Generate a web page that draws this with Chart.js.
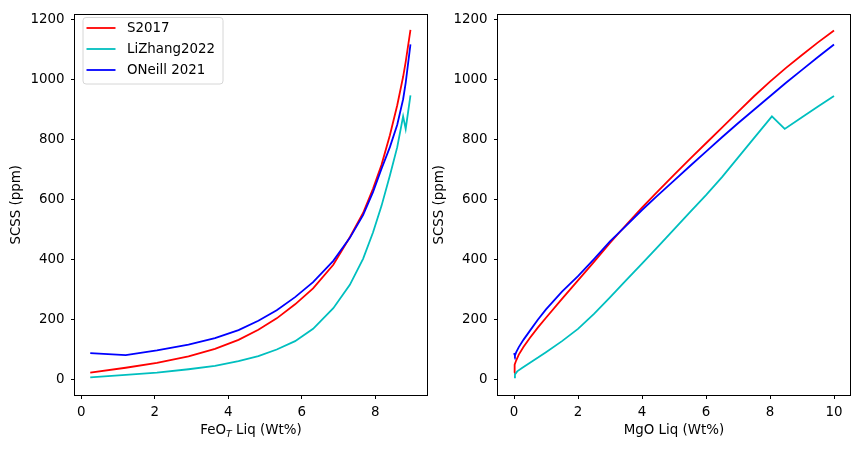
<!DOCTYPE html>
<html>
<head>
<meta charset="utf-8">
<script src="https://cdn.jsdelivr.net/npm/chart.js@4.4.1/dist/chart.umd.min.js"></script>
<style>
  html, body { margin: 0; padding: 0; background: #fff; }
  #wrap { position: relative; width: 859px; height: 452px; }
  #wrap canvas { position: absolute; top: 0; }
</style>
</head>
<body>
<div id="wrap">
  <canvas id="feoChart" width="430" height="452" style="left:0"></canvas>
  <canvas id="mgoChart" width="429" height="452" style="left:430px"></canvas>
</div>
<script>
// Left panel: SCSS against FeO_T
const feoLiq = [0.245, 1.21, 2.06, 2.92, 3.64, 4.28, 4.82, 5.32, 5.82, 6.31, 6.86, 7.31, 7.67, 7.94, 8.17, 8.4, 8.6, 8.76, 8.83, 8.96];
const s2017Feo = [22, 38, 54, 76, 101, 131, 165, 203, 250, 303, 382, 474, 555, 636, 715, 815, 915, 1010, 1060, 1167];
const liZhangFeo = [6, 14, 22, 33, 44, 60, 77, 99, 127, 168, 237, 315, 402, 490, 578, 680, 775, 878, 836, 948];
const oneillFeo = [87, 80, 96, 115, 137, 164, 195, 230, 274, 324, 395, 472, 548, 625, 702, 775, 850, 935, 990, 1118];

// Right panel: SCSS against MgO
const mgoRed = [0, 0.01, 0.03, 0.07, 0.15, 0.3, 0.5, 0.75, 1, 1.5, 2, 2.5, 3, 3.5, 4, 4.5, 5, 5.5, 6, 6.5, 7, 7.5, 8, 8.5, 9, 9.5, 10];
const s2017Mgo = [21, 36, 48, 63, 82, 108, 138, 173, 205, 268, 330, 392, 455, 515, 573, 628, 682, 736, 788, 840, 893, 945, 994, 1040, 1083, 1125, 1165];
const mgoBlue = [0, 0.03, 0.07, 0.15, 0.3, 0.5, 0.75, 1, 1.5, 2, 2.5, 3, 3.5, 4, 4.5, 5, 5.5, 6, 6.5, 7, 7.5, 8, 8.5, 9, 9.5, 10];
const oneillMgo = [87, 79, 90, 107, 132, 162, 199, 233, 292, 344, 401, 460, 512, 565, 615, 663, 712, 760, 808, 855, 900, 945, 990, 1033, 1076, 1118];
const mgoCyan = [0, 0.03, 0.1, 0.25, 0.5, 0.75, 1, 1.5, 2, 2.5, 3, 3.5, 4, 4.5, 5, 5.5, 6, 6.5, 7, 7.5, 8.06, 8.46, 9, 9.5, 10];
const liZhangMgo = [6, 16, 26, 37, 55, 72, 90, 127, 168, 218, 273, 330, 386, 443, 500, 558, 615, 675, 740, 805, 878, 836, 875, 911, 946];

const seriesNames = ['S2017', 'LiZhang2022', 'ONeill 2021'];
const seriesColors = ['#ff0000', '#00bfbf', '#0000ff'];
const yTicks = [0, 200, 400, 600, 800, 1000, 1200];
const feoTicks = [0, 2, 4, 6, 8];
const mgoTicks = [0, 2, 4, 6, 8, 10];

const FONT = { family: 'DejaVu Sans', size: 13.4 };
const pts = (xs, ys) => xs.map((x, i) => ({ x: x, y: ys[i] }));

function makeDatasets(list) {
  return list.map((d, i) => ({
    label: seriesNames[i],
    data: d,
    borderColor: seriesColors[i],
    backgroundColor: seriesColors[i],
    borderWidth: 1.8,
    pointRadius: 0,
    tension: 0,
    fill: false,
    order: 3 - i
  }));
}

function makeScales(xMin, xMax, xTicks, yWidth, xTitle, yTitlePad) {
  const grid = { drawOnChartArea: false, drawTicks: true, tickLength: 4, color: '#000', lineWidth: 1 };
  return {
    x: {
      type: 'linear', min: xMin, max: xMax,
      afterBuildTicks: s => { s.ticks = xTicks.map(v => ({ value: v })); },
      afterFit: s => { s.height = 57; },
      grid: grid,
      border: { display: false },
      ticks: { color: '#000', font: FONT, padding: 5, maxRotation: 0, autoSkip: false, callback: v => String(v) },
      title: { display: !!xTitle, text: xTitle || '', color: '#000', font: FONT, padding: { top: 0, bottom: 13 } }
    },
    y: {
      type: 'linear', min: -53, max: 1218,
      afterBuildTicks: s => { s.ticks = yTicks.map(v => ({ value: v })); },
      afterFit: s => { s.width = yWidth; },
      grid: grid,
      border: { display: false },
      ticks: { color: '#000', font: FONT, padding: 6.5, autoSkip: false, callback: v => String(v) },
      title: { display: true, text: 'SCSS (ppm)', color: '#000', font: FONT, padding: { top: yTitlePad, bottom: 0 } }
    }
  };
}

// axes frame like matplotlib spines
const framePlugin = {
  id: 'frame',
  afterDatasetsDraw(chart) {
    const a = chart.chartArea, ctx = chart.ctx;
    ctx.save();
    ctx.strokeStyle = '#000';
    ctx.lineWidth = 1;
    ctx.strokeRect(Math.round(a.left) - 0.5, Math.round(a.top) - 0.5, Math.round(a.right - a.left) + 1, Math.round(a.bottom - a.top) + 1);
    ctx.restore();
  }
};

// legend drawn inside the upper left of the FeO panel
const insideLegend = {
  id: 'insideLegend',
  afterDraw(chart) {
    const ctx = chart.ctx;
    ctx.save();
    const x0 = 83, y0 = 17.5, w = 140, h = 66.5, r = 3;
    ctx.beginPath();
    ctx.moveTo(x0 + r, y0);
    ctx.arcTo(x0 + w, y0, x0 + w, y0 + h, r);
    ctx.arcTo(x0 + w, y0 + h, x0, y0 + h, r);
    ctx.arcTo(x0, y0 + h, x0, y0, r);
    ctx.arcTo(x0, y0, x0 + w, y0, r);
    ctx.closePath();
    ctx.fillStyle = 'rgba(255,255,255,0.8)';
    ctx.fill();
    ctx.strokeStyle = '#d6d6d6';
    ctx.lineWidth = 1;
    ctx.stroke();
    ctx.font = FONT.size + 'px "' + FONT.family + '"';
    ctx.textBaseline = 'middle';
    ctx.fillStyle = '#000';
    seriesNames.forEach((name, i) => {
      const y = 28 + i * 21;
      ctx.beginPath();
      ctx.moveTo(86.5, y);
      ctx.lineTo(115.5, y);
      ctx.strokeStyle = seriesColors[i];
      ctx.lineWidth = 1.8;
      ctx.stroke();
      ctx.fillText(name, 127, y + 1);
    });
    ctx.restore();
  }
};

// x title with subscript T: FeO_T Liq (Wt%)
const feoTitle = {
  id: 'feoTitle',
  afterDraw(chart) {
    const ctx = chart.ctx, a = chart.chartArea;
    ctx.save();
    const big = FONT.size + 'px "DejaVu Sans"';
    const small = 'italic ' + (FONT.size * 0.7).toFixed(1) + 'px "DejaVu Sans"';
    ctx.font = big;
    const w1 = ctx.measureText('FeO').width;
    const w3 = ctx.measureText(' Liq (Wt%)').width;
    ctx.font = small;
    const w2 = ctx.measureText('T').width;
    let x = (a.left + a.right) / 2 - (w1 + w2 + w3) / 2;
    const y = 431;
    ctx.textBaseline = 'middle';
    ctx.fillStyle = '#000';
    ctx.font = big;
    ctx.fillText('FeO', x, y);
    x += w1;
    ctx.font = small;
    ctx.fillText('T', x, y + 3.5);
    x += w2;
    ctx.font = big;
    ctx.fillText(' Liq (Wt%)', x, y);
    ctx.restore();
  }
};

new Chart(document.getElementById('feoChart').getContext('2d'), {
  type: 'line',
  data: {
    datasets: makeDatasets([pts(feoLiq, s2017Feo), pts(feoLiq, liZhangFeo), pts(feoLiq, oneillFeo)])
  },
  options: {
    responsive: false,
    animation: false,
    layout: { padding: { left: 0, right: 3, top: 11, bottom: 0 } },
    plugins: { legend: { display: false }, tooltip: { enabled: false } },
    scales: makeScales(-0.17, 9.41, feoTicks, 75, null, 8)
  },
  plugins: [framePlugin, insideLegend, feoTitle]
});

new Chart(document.getElementById('mgoChart').getContext('2d'), {
  type: 'line',
  data: {
    datasets: makeDatasets([pts(mgoRed, s2017Mgo), pts(mgoCyan, liZhangMgo), pts(mgoBlue, oneillMgo)])
  },
  options: {
    responsive: false,
    animation: false,
    layout: { padding: { left: 0, right: 9, top: 11, bottom: 0 } },
    plugins: { legend: { display: false }, tooltip: { enabled: false } },
    scales: makeScales(-0.5, 10.5, mgoTicks, 68, 'MgO Liq (Wt%)', 1)
  },
  plugins: [framePlugin]
});
</script>
</body>
</html>
